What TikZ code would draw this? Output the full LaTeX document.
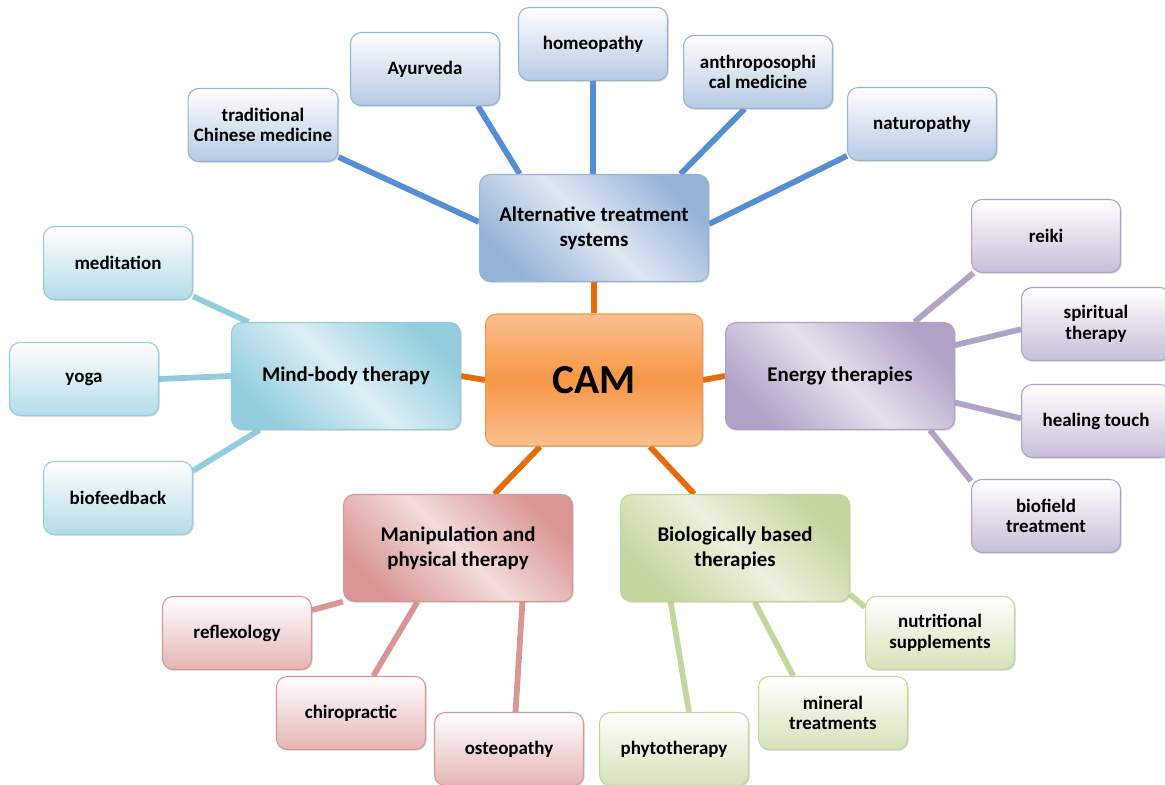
\documentclass[tikz,border=0pt]{standalone}
\usepackage{fontspec}
\setmainfont{Carlito}
\usetikzlibrary{backgrounds,shadows}
\definecolor{altline}{RGB}{85,142,213}
\definecolor{altdark}{RGB}{149,179,215}
\definecolor{altlight}{RGB}{222,231,242}
\definecolor{mindline}{RGB}{147,205,221}
\definecolor{minddark}{RGB}{147,205,221}
\definecolor{mindlight}{RGB}{219,238,244}
\definecolor{enline}{RGB}{179,162,199}
\definecolor{endark}{RGB}{178,161,199}
\definecolor{enlight}{RGB}{229,224,236}
\definecolor{manline}{RGB}{217,150,148}
\definecolor{mandark}{RGB}{217,150,148}
\definecolor{manlight}{RGB}{242,220,219}
\definecolor{bioline}{RGB}{195,214,155}
\definecolor{biodark}{RGB}{195,214,155}
\definecolor{biolight}{RGB}{235,241,222}
\definecolor{camline}{RGB}{228,108,10}
\definecolor{camdark}{RGB}{247,150,70}
\definecolor{camlight}{RGB}{250,192,143}

\begin{document}
\begin{tikzpicture}[
  x=0.02cm, y=-0.02cm,
  box/.style={draw=#1, line width=0.6pt, rounded corners=6pt, align=center,
              drop shadow={shadow xshift=0.7pt, shadow yshift=-0.7pt,
                           opacity=0.35, fill=gray}},
  hub/.style={box=#1dark, left color=#1dark, right color=#1dark,
              middle color=#1light, shading angle=135,
              minimum width=4.58cm, minimum height=2.14cm,
              font=\bfseries\fontsize{11.9}{14.2}\selectfont},
  leaf/.style={box=#1dark, top color=white, bottom color=#1dark!70!white,
               minimum width=2.98cm, minimum height=1.46cm,
               font=\bfseries\fontsize{10.8}{11.6}\selectfont},
  link/.style={line width=3.3pt}
]
  \useasboundingbox (0,0) rectangle (1165,784);
  % centre
  \node[box=camdark, top color=camlight, bottom color=camlight, middle color=camdark,
        minimum width=4.34cm, minimum height=2.64cm,
        font=\bfseries\fontsize{23.5}{28}\selectfont] (cam) at (594,380) {CAM};
  % alternative treatment systems
  \node[hub=alt] (alt) at (594,228) {Alternative treatment\\systems};
  \node[leaf=alt] (tcm) at (263,125) {traditional\\Chinese medicine};
  \node[leaf=alt] (ayur) at (425,69) {Ayurveda};
  \node[leaf=alt] (homeo) at (593,44) {homeopathy};
  \node[leaf=alt] (anthro) at (758,72) {anthroposophi\\cal medicine};
  \node[leaf=alt] (natur) at (922,124) {naturopathy};
  % mind-body
  \node[hub=mind] (mind) at (346,376) {Mind-body therapy};
  \node[leaf=mind] (medit) at (118,263) {meditation};
  \node[leaf=mind] (yoga) at (84,379) {yoga};
  \node[leaf=mind] (biofb) at (118,498) {biofeedback};
  % energy
  \node[hub=en] (energy) at (840,376) {Energy therapies};
  \node[leaf=en] (reiki) at (1046,236) {reiki};
  \node[leaf=en] (spirit) at (1096,324) {spiritual\\therapy};
  \node[leaf=en] (heal) at (1096,421) {healing touch};
  \node[leaf=en] (biofield) at (1046,516) {biofield\\treatment};
  % manipulation
  \node[hub=man] (manip) at (458,548) {Manipulation and\\physical therapy};
  \node[leaf=man] (reflex) at (237,633) {reflexology};
  \node[leaf=man] (chiro) at (351,713) {chiropractic};
  \node[leaf=man] (osteo) at (509,749) {osteopathy};
  % biological
  \node[hub=bio] (bio) at (735,548) {Biologically based\\therapies};
  \node[leaf=bio] (nutri) at (940,633) {nutritional\\supplements};
  \node[leaf=bio] (miner) at (833,713) {mineral\\treatments};
  \node[leaf=bio] (phyto) at (674,749) {phytotherapy};

  \begin{scope}[on background layer]
    \draw[link, camline] (cam.north) -- (alt.south);
    \draw[link, camline] (cam.west) -- (mind.east);
    \draw[link, camline] (cam.east) -- (energy.west);
    \draw[link, camline] (cam.-129) -- (manip.56);
    \draw[link, camline] (cam.-50) -- (bio.127);
    % blue
    \draw[link, altline] (tcm.-23) -- (alt.177);
    \draw[link, altline] (ayur.-35) -- (alt.144);
    \draw[link, altline] (homeo.south) -- (homeo.south |- alt.north);
    \draw[link, altline] (anthro.-110) -- (alt.32);
    \draw[link, altline] (natur.203) -- (alt.2);
    % teal
    \draw[link, mindline] (medit.-24) -- (mind.151);
    \draw[link, mindline] (yoga.east) -- (mind.west);
    \draw[link, mindline] (biofb.20) -- (mind.-148);
    % purple
    \draw[link, enline] (energy.36) -- (reiki.-153);
    \draw[link, enline] (energy.15) -- (spirit.184);
    \draw[link, enline] (energy.-13) -- (heal.178);
    \draw[link, enline] (energy.-31) -- (biofield.155);
    % red
    \draw[link, manline] (manip.-155) -- (reflex.17);
    \draw[link, manline] (manip.-127) -- (chiro.59);
    \draw[link, manline] (manip.-40) -- (osteo.80);
    % green
    \draw[link, bioline] (bio.-22) -- (nutri.161);
    \draw[link, bioline] (bio.-70) -- (miner.137);
    \draw[link, bioline] (bio.-140) -- (phyto.68);
  \end{scope}
\end{tikzpicture}
\end{document}
